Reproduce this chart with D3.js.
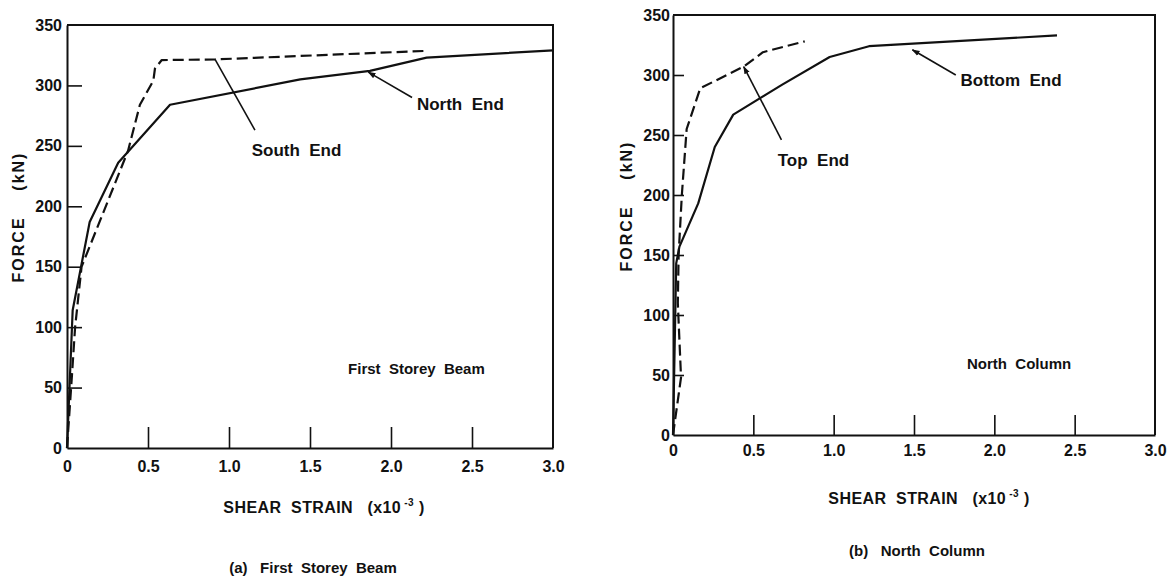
<!DOCTYPE html>
<html>
<head>
<meta charset="utf-8">
<script src="https://cdn.jsdelivr.net/npm/d3@7"></script>
<style>
  html, body { margin: 0; padding: 0; background: #fff; }
  svg text { font-family: "Liberation Sans", Arial, Helvetica, sans-serif; font-weight: bold; fill: #111; }
</style>
</head>
<body>
<svg id="chart" width="1170" height="578"></svg>
<script>
// Axis ticks shared by both panels
const strainTicks = [0, 0.5, 1.0, 1.5, 2.0, 2.5, 3.0];
const strainTickLabels = ["0", "0.5", "1.0", "1.5", "2.0", "2.5", "3.0"];
const forceTicks = [0, 50, 100, 150, 200, 250, 300, 350];
const forceTickLabels = ["0", "50", "100", "150", "200", "250", "300", "350"];

// (a) First storey beam
const beamNorthStrain = [0, 0.035, 0.14, 0.316, 0.636, 1.44, 1.87, 2.22, 3.0];
const beamNorthForce  = [0, 114, 187, 236, 284, 305, 312, 323, 329];
const beamSouthStrain = [0, 0.03, 0.05, 0.09, 0.377, 0.45, 0.533, 0.543, 0.585, 0.914, 2.2];
const beamSouthForce  = [0, 59, 100, 150, 246, 284, 304, 314, 321, 321.5, 328.5];

// (b) North column
const colBottomStrain = [0, 0.02, 0.04, 0.157, 0.26, 0.375, 0.68, 0.975, 1.22, 2.39];
const colBottomForce  = [0, 143, 157, 193, 240, 267, 292, 315, 324, 333];
const colTopStrain = [0, 0.05, 0.03, 0.035, 0.055, 0.085, 0.17, 0.44, 0.56, 0.82];
const colTopForce  = [0, 48, 110, 150, 200, 255, 289, 307, 319, 328];

const svg = d3.select("#chart");

svg.append("defs").append("marker")
  .attr("id", "tip")
  .attr("viewBox", "0 0 10 10")
  .attr("refX", 9).attr("refY", 5)
  .attr("markerWidth", 5).attr("markerHeight", 5)
  .attr("orient", "auto-start-reverse")
  .append("path").attr("d", "M0,1.5 L10,5 L0,8.5 Z").attr("fill", "#111");

function drawPanel(p) {
  const x = d3.scaleLinear().domain([0, 3]).range([p.left, p.right]);
  const y = d3.scaleLinear().domain([0, 350]).range([p.bottom, p.top]);
  const g = svg.append("g");

  // frame: top and right edges
  g.append("path")
    .attr("d", `M${x(0)},${y(350)} H${x(3)} V${y(0)}`)
    .attr("fill", "none").attr("stroke", "#111").attr("stroke-width", 2);

  const xAxis = d3.axisBottom(x)
    .tickValues(strainTicks)
    .tickFormat((d, i) => strainTickLabels[i])
    .tickSizeInner(-p.xTick).tickSizeOuter(0).tickPadding(p.xPad);
  const gx = g.append("g").attr("transform", `translate(0,${y(0)})`).call(xAxis);

  const yAxis = d3.axisLeft(y)
    .tickValues(forceTicks)
    .tickFormat((d, i) => forceTickLabels[i])
    .tickSizeInner(-p.yTick).tickSizeOuter(0).tickPadding(p.yPad);
  const gy = g.append("g").attr("transform", `translate(${x(0)},0)`).call(yAxis);

  [gx, gy].forEach(a => {
    a.select(".domain").attr("stroke", "#111").attr("stroke-width", 2);
    a.selectAll(".tick line").attr("stroke", "#111").attr("stroke-width", 1.6);
    a.selectAll(".tick text").attr("font-size", 16).attr("fill", "#111")
      .style("font-family", '"Liberation Sans", Arial, sans-serif').style("font-weight", "bold");
  });
  gx.selectAll(".tick").filter(d => d === 0 || d === 3).select("line").remove();
  gy.selectAll(".tick").filter(d => d === 0 || d === 350).select("line").remove();

  const line = d3.line().x(d => x(d[0])).y(d => y(d[1]));
  p.series.forEach(s => {
    g.append("path")
      .datum(d3.zip(s.strain, s.force))
      .attr("d", line)
      .attr("fill", "none")
      .attr("stroke", "#111")
      .attr("stroke-width", 2.2)
      .attr("stroke-linejoin", "round")
      .attr("stroke-dasharray", s.dashed ? "11,5" : null);
  });

  p.notes.forEach(n => {
    g.append("line")
      .attr("x1", x(n.to[0])).attr("y1", y(n.to[1]))
      .attr("x2", x(n.from[0])).attr("y2", y(n.from[1]))
      .attr("stroke", "#111").attr("stroke-width", 1.6)
      .attr("marker-end", n.arrow ? "url(#tip)" : null);
    g.append("text")
      .attr("x", x(n.text[0])).attr("y", y(n.text[1]))
      .attr("font-size", 17)
      .attr("xml:space", "preserve")
      .text(n.label);
  });

  g.append("text")
    .attr("x", x(p.inner[0])).attr("y", y(p.inner[1]))
    .attr("font-size", 15)
    .attr("xml:space", "preserve")
    .text(p.innerLabel);

  // y-axis title
  g.append("text")
    .attr("transform", `translate(${p.yTitleX},${p.yTitleY}) rotate(-90)`)
    .attr("text-anchor", "middle")
    .attr("font-size", 16)
    .attr("letter-spacing", 2)
    .attr("xml:space", "preserve")
    .text("FORCE    (kN)");

  // x-axis title with superscript exponent
  const xt = g.append("text")
    .attr("x", p.xTitleX).attr("y", p.xTitleY)
    .attr("text-anchor", "middle")
    .attr("font-size", 16)
    .attr("letter-spacing", 0.4)
    .attr("xml:space", "preserve");
  xt.append("tspan").text("SHEAR  STRAIN   (x10");
  xt.append("tspan").attr("dy", -7).attr("font-size", 10).text(" -3");
  xt.append("tspan").attr("dy", 7).text(" )");

  g.append("text")
    .attr("x", p.capX).attr("y", p.capY)
    .attr("text-anchor", "middle")
    .attr("font-size", 15)
    .attr("xml:space", "preserve")
    .text(p.caption);
}

drawPanel({
  left: 67, right: 553, top: 25, bottom: 448,
  xTick: 21, yTick: 15, xPad: 13, yPad: 5,
  series: [
    { strain: beamNorthStrain, force: beamNorthForce, dashed: false },
    { strain: beamSouthStrain, force: beamSouthForce, dashed: true }
  ],
  notes: [
    { label: "South  End", from: [0.914, 321.5], to: [1.16, 263], text: [1.14, 242], arrow: false },
    { label: "North  End", from: [1.86, 311], to: [2.13, 290], text: [2.16, 280], arrow: true }
  ],
  inner: [1.735, 61], innerLabel: "First  Storey  Beam",
  yTitleX: 24, yTitleY: 217,
  xTitleX: 324, xTitleY: 513,
  capX: 313, capY: 573, caption: "(a)   First  Storey  Beam"
});

drawPanel({
  left: 673, right: 1155, top: 15, bottom: 435,
  xTick: 20, yTick: 11, xPad: 10, yPad: 3,
  series: [
    { strain: colBottomStrain, force: colBottomForce, dashed: false },
    { strain: colTopStrain, force: colTopForce, dashed: true }
  ],
  notes: [
    { label: "Top  End", from: [0.44, 307], to: [0.675, 246], text: [0.652, 224], arrow: true },
    { label: "Bottom  End", from: [1.49, 321], to: [1.76, 300], text: [1.79, 291], arrow: true }
  ],
  inner: [1.83, 55], innerLabel: "North  Column",
  yTitleX: 632, yTitleY: 206,
  xTitleX: 929, xTitleY: 504,
  capX: 917, capY: 556, caption: "(b)   North  Column"
});
</script>
</body>
</html>
